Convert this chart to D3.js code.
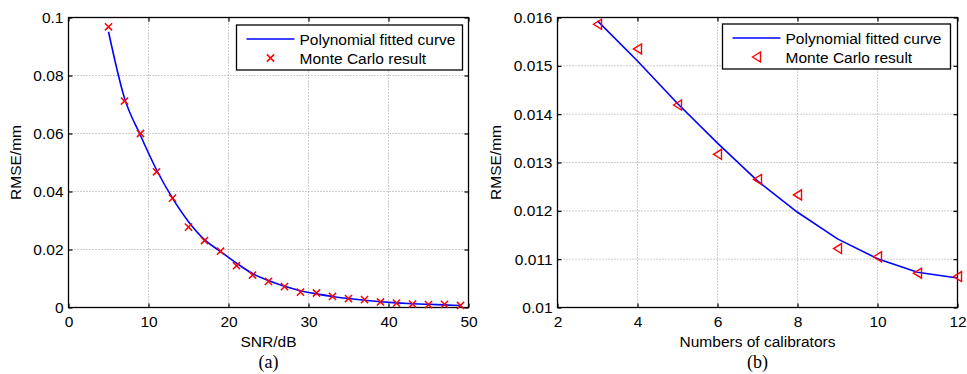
<!DOCTYPE html>
<html>
<head>
<meta charset="utf-8">
<script src="https://cdn.jsdelivr.net/npm/d3@7"></script>
<style>
  html, body { margin: 0; padding: 0; background: #fff; }
  svg text { font-family: "Liberation Sans", Arial, sans-serif; }
</style>
</head>
<body>
<svg id="chart" width="967" height="374"></svg>
<script>
// Panel (a): RMSE versus SNR
const snrDb = [5, 7, 9, 11, 13, 15, 17, 19, 21, 23, 25, 27, 29, 31, 33, 35, 37, 39, 41, 43, 45, 47, 49];
const snrMonteCarlo = [0.0968, 0.0712, 0.0600, 0.0468, 0.0377, 0.0277, 0.0231, 0.0194, 0.0144, 0.0112,
  0.0090, 0.0072, 0.0053, 0.0050, 0.0038, 0.0031, 0.0027, 0.0019, 0.0015, 0.0012, 0.0010, 0.0011, 0.0007];
const snrFitted = [0.0951, 0.0722, 0.0593, 0.0475, 0.0377, 0.0296, 0.0234, 0.0193, 0.0153, 0.0117,
  0.0093, 0.0073, 0.0058, 0.0047, 0.0038, 0.0031, 0.0025, 0.0020, 0.0016, 0.0013, 0.0011, 0.0009, 0.0007];
const snrTicksX = [0, 10, 20, 30, 40, 50];
const snrTicksY = [0, 0.02, 0.04, 0.06, 0.08, 0.1];

// Panel (b): RMSE versus number of calibrators
const calibrators = [3, 4, 5, 6, 7, 8, 9, 10, 11, 12];
const calMonteCarlo = [0.01586, 0.01535, 0.01419, 0.01317, 0.01265, 0.01233, 0.01122, 0.01105, 0.01071, 0.01064];
const calFitted = [0.01593, 0.01510, 0.01422, 0.01340, 0.01262, 0.01197, 0.01142, 0.01101, 0.01073, 0.01061];
const calTicksX = [2, 4, 6, 8, 10, 12];
const calTicksY = [0.01, 0.011, 0.012, 0.013, 0.014, 0.015, 0.016];

const legendLabels = ["Polynomial fitted curve", "Monte Carlo result"];

const svg = d3.select("#chart");
const FONT = 15.5;

function panel(cfg) {
  const g = svg.append("g");
  const x = d3.scaleLinear().domain(cfg.xDomain).range([cfg.left, cfg.right]);
  const y = d3.scaleLinear().domain(cfg.yDomain).range([cfg.bottom, cfg.top]);
  const w = cfg.right - cfg.left, h = cfg.bottom - cfg.top;

  // dotted grid
  const grid = g.append("g").attr("stroke", "#9a9a9a").attr("stroke-width", 1)
    .attr("stroke-dasharray", "1,2");
  cfg.xTicks.forEach(t => {
    if (t === cfg.xDomain[0] || t === cfg.xDomain[1]) return;
    grid.append("line").attr("x1", x(t)).attr("x2", x(t)).attr("y1", cfg.top).attr("y2", cfg.bottom);
  });
  cfg.yTicks.forEach(t => {
    if (t === cfg.yDomain[0] || t === cfg.yDomain[1]) return;
    grid.append("line").attr("x1", cfg.left).attr("x2", cfg.right).attr("y1", y(t)).attr("y2", y(t));
  });

  // axes with inward ticks on all four sides
  const tl = 4;
  const ax = d3.axisBottom(x).tickValues(cfg.xTicks).tickSizeInner(-tl).tickSizeOuter(0)
    .tickPadding(8).tickFormat(cfg.xFormat);
  const ay = d3.axisLeft(y).tickValues(cfg.yTicks).tickSizeInner(-tl).tickSizeOuter(0)
    .tickPadding(5).tickFormat(cfg.yFormat);
  const axTop = d3.axisTop(x).tickValues(cfg.xTicks).tickSizeInner(-tl).tickSizeOuter(0).tickFormat("");
  const ayRight = d3.axisRight(y).tickValues(cfg.yTicks).tickSizeInner(-tl).tickSizeOuter(0).tickFormat("");

  const styleAxis = sel => {
    sel.select(".domain").remove();
    sel.selectAll("line").attr("stroke", "#000").attr("stroke-width", 1.2);
    sel.selectAll("text").attr("fill", "#000").style("font-size", FONT + "px")
      .style("font-family", "'Liberation Sans', Arial, sans-serif");
  };
  g.append("g").attr("transform", `translate(0,${cfg.bottom})`).call(ax).call(styleAxis);
  g.append("g").attr("transform", `translate(${cfg.left},0)`).call(ay).call(styleAxis);
  g.append("g").attr("transform", `translate(0,${cfg.top})`).call(axTop).call(styleAxis);
  g.append("g").attr("transform", `translate(${cfg.right},0)`).call(ayRight).call(styleAxis);

  // axes box
  g.append("rect").attr("x", cfg.left).attr("y", cfg.top).attr("width", w).attr("height", h)
    .attr("fill", "none").attr("stroke", "#000").attr("stroke-width", 1.3);

  // fitted curve
  const line = d3.line().x((d, i) => x(cfg.xs[i])).y(d => y(d)).curve(cfg.curve);
  g.append("path").datum(cfg.fit).attr("d", line).attr("fill", "none")
    .attr("stroke", "#0000ff").attr("stroke-width", 1.6);

  // Monte Carlo markers
  const mk = g.append("g");
  cfg.mc.forEach((v, i) => cfg.marker(mk, x(cfg.xs[i]), y(v)));

  // labels
  g.append("text").attr("x", (cfg.left + cfg.right) / 2).attr("y", cfg.bottom + 39.5)
    .attr("text-anchor", "middle").style("font-size", FONT + "px").text(cfg.xLabel);
  g.append("text").attr("transform", `translate(${cfg.yLabelX},${(cfg.top + cfg.bottom) / 2}) rotate(-90)`)
    .attr("text-anchor", "middle").style("font-size", FONT + "px").text(cfg.yLabel);
  g.append("text").attr("x", (cfg.left + cfg.right) / 2).attr("y", cfg.bottom + 60)
    .attr("text-anchor", "middle").style("font-family", "'Liberation Serif', 'Times New Roman', serif")
    .style("font-size", "18px").text(cfg.caption);

  // legend
  const lg = g.append("g");
  lg.append("rect").attr("x", cfg.legend.x).attr("y", cfg.legend.y).attr("width", cfg.legend.w)
    .attr("height", 45).attr("fill", "#fff").attr("stroke", "#000").attr("stroke-width", 1.3);
  const r1 = cfg.legend.y + 14, r2 = cfg.legend.y + 33;
  lg.append("line").attr("x1", cfg.legend.x + 10).attr("x2", cfg.legend.x + 58)
    .attr("y1", r1).attr("y2", r1).attr("stroke", "#0000ff").attr("stroke-width", 1.6);
  cfg.marker(lg, cfg.legend.x + 34, r2);
  lg.append("text").attr("x", cfg.legend.x + 63).attr("y", r1 + 5.5).style("font-size", FONT + "px").text(legendLabels[0]);
  lg.append("text").attr("x", cfg.legend.x + 63).attr("y", r2 + 5.5).style("font-size", FONT + "px").text(legendLabels[1]);
}

function crossMarker(sel, cx, cy) {
  const s = 3.6;
  sel.append("path").attr("d", `M${cx - s},${cy - s}L${cx + s},${cy + s}M${cx - s},${cy + s}L${cx + s},${cy - s}`)
    .attr("stroke", "#ff0000").attr("stroke-width", 1.5).attr("fill", "none");
}
function triMarker(sel, cx, cy) {
  const hw = 4, hh = 5;
  sel.append("path").attr("d", `M${cx - hw},${cy}L${cx + hw},${cy - hh}L${cx + hw},${cy + hh}Z`)
    .attr("stroke", "#ff0000").attr("stroke-width", 1.4).attr("fill", "none");
}

panel({
  left: 68.5, right: 468.5, top: 17.5, bottom: 307.5,
  xDomain: [0, 50], yDomain: [0, 0.1], xTicks: snrTicksX, yTicks: snrTicksY,
  xFormat: d3.format("d"), yFormat: d => d === 0 ? "0" : String(+d.toFixed(2)),
  xs: snrDb, fit: snrFitted, mc: snrMonteCarlo, curve: d3.curveMonotoneX, marker: crossMarker,
  xLabel: "SNR/dB", yLabel: "RMSE/mm", yLabelX: 21, caption: "(a)",
  legend: { x: 236.5, y: 25, w: 226 }
});

panel({
  left: 557.5, right: 957.5, top: 17.5, bottom: 307.5,
  xDomain: [2, 12], yDomain: [0.01, 0.016], xTicks: calTicksX, yTicks: calTicksY,
  xFormat: d3.format("d"), yFormat: d => String(+d.toFixed(3)),
  xs: calibrators, fit: calFitted, mc: calMonteCarlo, curve: d3.curveLinear, marker: triMarker,
  xLabel: "Numbers of calibrators", yLabel: "RMSE/mm", yLabelX: 501, caption: "(b)",
  legend: { x: 722.5, y: 24, w: 228 }
});
</script>
</body>
</html>
